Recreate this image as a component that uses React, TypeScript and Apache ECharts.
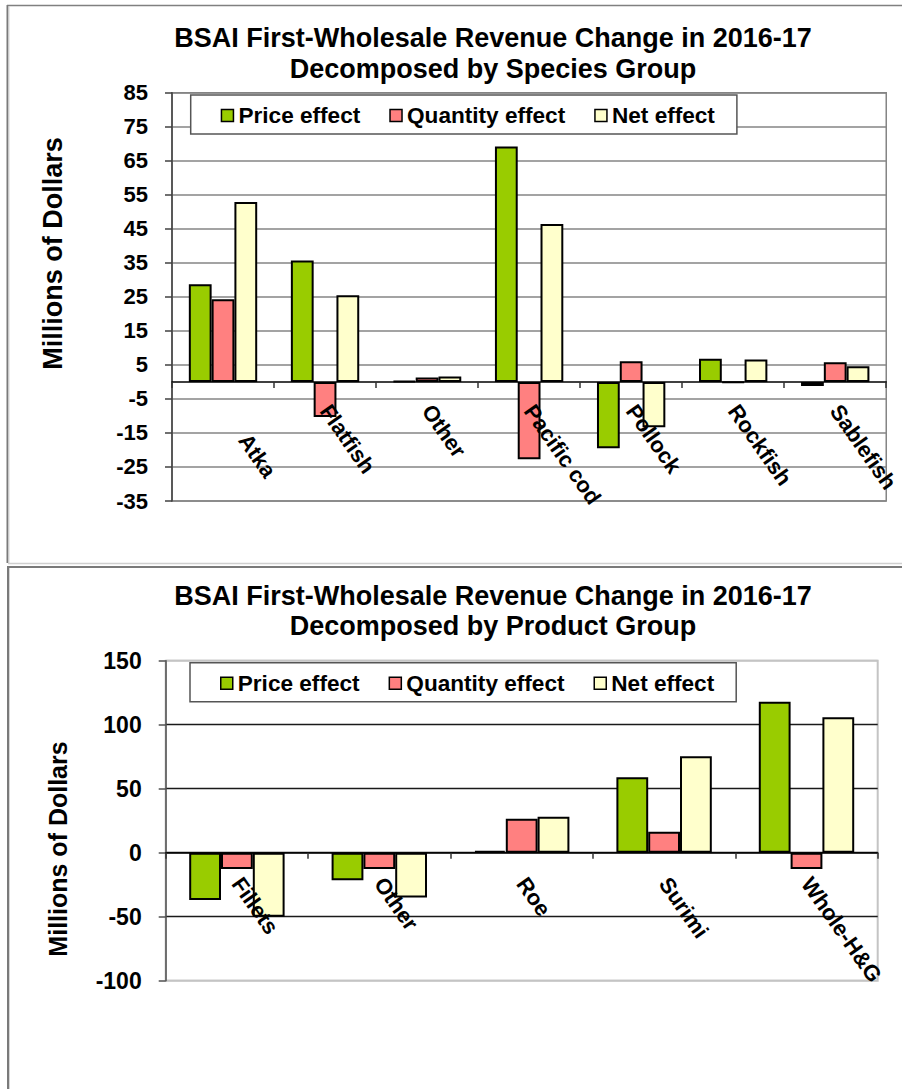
import React, { useEffect, useRef } from "react";
import * as echarts from "echarts";

const seriesNames = ["Price effect", "Quantity effect", "Net effect"];
const seriesColors = ["#99CC00", "#FF8080", "#FFFFCC"];

const speciesGroups = ["Atka", "Flatfish", "Other", "Pacific cod", "Pollock", "Rockfish", "Sablefish"];
const speciesPrice = [28.7, 35.7, 0.3, 69.2, -19.5, 6.8, -1.2];
const speciesQuantity = [24.3, -10.3, 1.3, -22.7, 6.1, -0.2, 5.8];
const speciesNet = [52.9, 25.5, 1.6, 46.4, -13.3, 6.6, 4.6];
const speciesTickLabels = ["-35", "-25", "-15", "-5", "5", "15", "25", "35", "45", "55", "65", "75", "85"];

const productGroups = ["Fillets", "Other", "Roe", "Surimi", "Whole-H&G"];
const productPrice = [-37, -21.6, 1.5, 58.9, 118];
const productQuantity = [-12.7, -12.7, 26.6, 16.4, -12.7];
const productNet = [-50, -35, 28.1, 75.3, 105.8];
const productTickRange = [-100, 150];
const productTickStep = 50;

const FONT = "'Liberation Sans', Arial, Helvetica, sans-serif";

// layout (pixels)
const TOP_GRID = { left: 172, right: 15, top: 92.7, bottom: 501 };
const BOT_GRID = { left: 165.7, right: 24.3, top: 660.7, bottom: 980.7 };

function barSeries(values: number[], idx: number, xAxisIndex: number, yAxisIndex: number) {
  return {
    type: "bar",
    name: seriesNames[idx],
    data: values,
    xAxisIndex,
    yAxisIndex,
    z: 2,
    barGap: "0%",
    barCategoryGap: "33%",
    itemStyle: { color: seriesColors[idx], borderColor: "#000", borderWidth: 2 },
  };
}

function legendFor(left: number, top: number) {
  return {
    data: seriesNames,
    left,
    top,
    orient: "horizontal",
    icon: "rect",
    itemWidth: 12,
    itemHeight: 12,
    itemGap: 29,
    padding: [9, 22, 7, 30],
    borderColor: "#555",
    borderWidth: 1.5,
    backgroundColor: "#fff",
    selectedMode: false,
    itemStyle: { borderWidth: 1.5, borderColor: "#000" },
    textStyle: { fontSize: 22.6, fontWeight: "bold", color: "#000", fontFamily: FONT },
  };
}

function categoryAxis(gridIndex: number, data: string[], offset: number, margin: number, extra: any = {}) {
  return {
    type: "category",
    gridIndex,
    data,
    position: "bottom",
    offset,
    z: 5,
    axisLine: { show: true, onZero: false, lineStyle: { color: "#000", width: 1.5 } },
    axisTick: { show: true, length: 6, lineStyle: { color: "#333", width: 1.5 } },
    axisLabel: {
      interval: 0,
      rotate: -55,
      margin,
      fontSize: 22,
      fontWeight: "bold",
      color: "#000",
      fontFamily: FONT,
      ...extra,
    },
    splitLine: { show: false },
  };
}

export default function App() {
  const ref = useRef<HTMLDivElement>(null);
  useEffect(() => {
    if (!ref.current) return;
    const chart = echarts.init(ref.current, undefined, { renderer: "svg" });

    const topMin = Number(speciesTickLabels[0]);
    const topMax = Number(speciesTickLabels[speciesTickLabels.length - 1]);
    const topH = TOP_GRID.bottom - TOP_GRID.top;
    const topZeroOffset = -((0 - topMin) / (topMax - topMin)) * topH;
    const botH = BOT_GRID.bottom - BOT_GRID.top;
    const botZeroOffset = -((0 - productTickRange[0]) / (productTickRange[1] - productTickRange[0])) * botH;

    const option: any = {
      animation: false,
      backgroundColor: "#fff",
      textStyle: { fontFamily: FONT },
      title: [
        {
          text: "BSAI First-Wholesale Revenue Change in 2016-17\nDecomposed by Species Group",
          left: 493,
          top: 22,
          padding: 0,
          textAlign: "center",
          textStyle: { fontSize: 27, fontWeight: "bold", color: "#000", lineHeight: 31, fontFamily: FONT },
        },
        {
          text: "BSAI First-Wholesale Revenue Change in 2016-17\nDecomposed by Product Group",
          left: 493,
          top: 581,
          padding: 0,
          textAlign: "center",
          textStyle: { fontSize: 27, fontWeight: "bold", color: "#000", lineHeight: 30, fontFamily: FONT },
        },
      ],
      legend: [legendFor(190.7, 95), legendFor(190, 662.7)],
      grid: [
        {
          left: TOP_GRID.left,
          right: TOP_GRID.right,
          top: TOP_GRID.top,
          bottom: 1089 - TOP_GRID.bottom,
          show: true,
          borderColor: "#858585",
          borderWidth: 1.5,
        },
        {
          left: BOT_GRID.left,
          right: BOT_GRID.right,
          top: BOT_GRID.top,
          bottom: 1089 - BOT_GRID.bottom,
          show: true,
          borderColor: "#c4c4c4",
          borderWidth: 2,
        },
      ],
      xAxis: [
        categoryAxis(0, speciesGroups, topZeroOffset, 25, {
          formatter: (v: string, i: number) => (i === 0 ? "      " + v : v),
        }),
        categoryAxis(1, productGroups, botZeroOffset, 27),
      ],
      yAxis: [
        {
          type: "value",
          gridIndex: 0,
          position: "right",
          min: topMin,
          max: topMax,
          show: false,
          splitLine: { show: false },
        },
        {
          type: "category",
          gridIndex: 0,
          position: "left",
          data: speciesTickLabels,
          boundaryGap: false,
          axisLine: { show: true, onZero: false, lineStyle: { color: "#404040", width: 1.5 } },
          axisTick: { show: true, length: 7, interval: 0, lineStyle: { color: "#404040", width: 1.5 } },
          axisLabel: { interval: 0, margin: 24, fontSize: 22, fontWeight: "bold", color: "#000", fontFamily: FONT },
          splitLine: { show: true, interval: 0, lineStyle: { color: "#858585", width: 1.5 } },
        },
        {
          type: "value",
          gridIndex: 1,
          position: "left",
          min: productTickRange[0],
          max: productTickRange[1],
          interval: productTickStep,
          axisLine: { show: true, onZero: false, lineStyle: { color: "#505050", width: 1.5 } },
          axisTick: { show: true, length: 7, lineStyle: { color: "#505050", width: 1.5 } },
          axisLabel: { margin: 24, fontSize: 23, fontWeight: "bold", color: "#000", fontFamily: FONT },
          splitLine: {
            show: true,
            lineStyle: { color: ["#c4c4c4", "#1a1a1a", "#1a1a1a", "#1a1a1a", "#1a1a1a", "#c4c4c4"], width: 1.3 },
          },
        },
      ],
      series: [
        barSeries(speciesPrice, 0, 0, 0),
        barSeries(speciesQuantity, 1, 0, 0),
        barSeries(speciesNet, 2, 0, 0),
        barSeries(productPrice, 0, 1, 2),
        barSeries(productQuantity, 1, 1, 2),
        barSeries(productNet, 2, 1, 2),
      ],
      graphic: [
        { type: "line", silent: true, shape: { x1: 7, y1: 5.5, x2: 902, y2: 5.5 }, style: { stroke: "#808080", lineWidth: 1.5 } },
        { type: "line", silent: true, shape: { x1: 7.5, y1: 5, x2: 7.5, y2: 563 }, style: { stroke: "#7a7a7a", lineWidth: 2 } },
        { type: "line", silent: true, shape: { x1: 9, y1: 6, x2: 9, y2: 563 }, style: { stroke: "#d6d6d6", lineWidth: 1 } },
        { type: "line", silent: true, shape: { x1: 8, y1: 563.5, x2: 902, y2: 563.5 }, style: { stroke: "#d0d0d0", lineWidth: 1.5 } },
        { type: "line", silent: true, shape: { x1: 7, y1: 567, x2: 902, y2: 567 }, style: { stroke: "#7a7a7a", lineWidth: 2 } },
        { type: "line", silent: true, shape: { x1: 8, y1: 566, x2: 8, y2: 1089 }, style: { stroke: "#7a7a7a", lineWidth: 2 } },
        { type: "line", silent: true, shape: { x1: 9.5, y1: 568, x2: 9.5, y2: 1089 }, style: { stroke: "#d6d6d6", lineWidth: 1 } },
        {
          type: "text",
          silent: true,
          x: 53,
          y: 253.5,
          rotation: Math.PI / 2,
          style: { text: "Millions of Dollars", font: `bold 27px ${FONT}`, fill: "#000", textAlign: "center", textVerticalAlign: "middle" },
        },
        {
          type: "text",
          silent: true,
          x: 58,
          y: 849,
          rotation: Math.PI / 2,
          style: { text: "Millions of Dollars", font: `bold 25px ${FONT}`, fill: "#000", textAlign: "center", textVerticalAlign: "middle" },
        },
      ],
    };
    chart.setOption(option);
    return () => chart.dispose();
  }, []);
  return <div ref={ref} style={{ position: "fixed", left: 0, top: 0, width: 902, height: 1089 }} />;
}
